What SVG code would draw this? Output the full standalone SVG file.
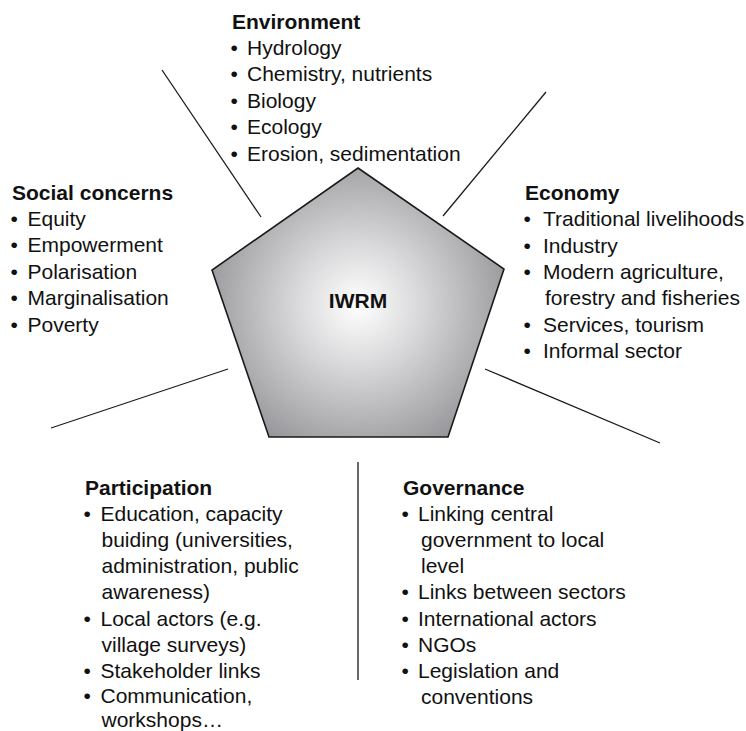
<svg xmlns="http://www.w3.org/2000/svg" width="746" height="731" viewBox="0 0 746 731">
  <defs>
    <radialGradient id="core" gradientUnits="userSpaceOnUse" cx="358" cy="305" r="175">
      <stop offset="0" stop-color="#ffffff"/>
      <stop offset="0.35" stop-color="#d9d9db"/>
      <stop offset="1" stop-color="#8b8b8f"/>
    </radialGradient>
  </defs>
  <style>
    text { font-family: "Liberation Sans", Arial, sans-serif; font-size: 21px; fill: #111; }
    .head { font-weight: bold; }
    .conn line { stroke: #1a1a1a; stroke-width: 1.3; }
    .core { fill: url(#core); stroke: #1a1a1a; stroke-width: 1.6; stroke-linejoin: miter; }
  </style>
  <rect width="746" height="731" fill="#ffffff"/>

  <!-- spokes separating the five themes -->
  <g class="conn" id="connectors">
    <line x1="162" y1="70" x2="261" y2="217"/>
    <line x1="546" y1="92" x2="443" y2="216"/>
    <line x1="228" y1="369" x2="51" y2="428"/>
    <line x1="485" y1="369" x2="660" y2="443"/>
    <line x1="358" y1="462" x2="358" y2="680"/>
  </g>

  <!-- central pentagon -->
  <g id="iwrm">
    <polygon class="core" points="358,168 504,269 448,437 269,437 212,270"/>
    <text class="head" x="358" y="308" text-anchor="middle">IWRM</text>
  </g>

  <g id="environment">
    <text class="head" x="232" y="28.5">Environment</text>
    <text x="230.5" y="54.5">•<tspan x="247">Hydrology</tspan></text>
    <text x="230.5" y="81">•<tspan x="247">Chemistry, nutrients</tspan></text>
    <text x="230.5" y="107.5">•<tspan x="247">Biology</tspan></text>
    <text x="230.5" y="134">•<tspan x="247">Ecology</tspan></text>
    <text x="230.5" y="160.5">•<tspan x="247">Erosion, sedimentation</tspan></text>
  </g>

  <g id="social">
    <text class="head" x="12" y="199.5">Social concerns</text>
    <text x="10.5" y="225.5">•<tspan x="27.5">Equity</tspan></text>
    <text x="10.5" y="252">•<tspan x="27.5">Empowerment</tspan></text>
    <text x="10.5" y="278.5">•<tspan x="27.5">Polarisation</tspan></text>
    <text x="10.5" y="305">•<tspan x="27.5">Marginalisation</tspan></text>
    <text x="10.5" y="331.5">•<tspan x="27.5">Poverty</tspan></text>
  </g>

  <g id="economy">
    <text class="head" x="525" y="200">Economy</text>
    <text x="523.5" y="226">•<tspan x="543">Traditional livelihoods</tspan></text>
    <text x="523.5" y="252.5">•<tspan x="543">Industry</tspan></text>
    <text x="523.5" y="279">•<tspan x="543">Modern agriculture,</tspan></text>
    <text x="545" y="305">forestry and fisheries</text>
    <text x="523.5" y="331.5">•<tspan x="543">Services, tourism</tspan></text>
    <text x="523.5" y="358">•<tspan x="543">Informal sector</tspan></text>
  </g>

  <g id="participation">
    <text class="head" x="85" y="495">Participation</text>
    <text x="83.5" y="521">•<tspan x="100.5">Education, capacity</tspan></text>
    <text x="101.5" y="547">buiding (universities,</text>
    <text x="101.5" y="573">administration, public</text>
    <text x="101.5" y="599">awareness)</text>
    <text x="83.5" y="625.5">•<tspan x="100.5">Local actors (e.g.</tspan></text>
    <text x="101.5" y="651.5">village surveys)</text>
    <text x="83.5" y="677.5">•<tspan x="100.5">Stakeholder links</tspan></text>
    <text x="83.5" y="703">•<tspan x="100.5">Communication,</tspan></text>
    <text x="101.5" y="726.5">workshops…</text>
  </g>

  <g id="governance">
    <text class="head" x="403" y="495">Governance</text>
    <text x="401.5" y="521">•<tspan x="418">Linking central</tspan></text>
    <text x="421" y="547">government to local</text>
    <text x="421" y="572.5">level</text>
    <text x="401.5" y="599">•<tspan x="418">Links between sectors</tspan></text>
    <text x="401.5" y="625.5">•<tspan x="418">International actors</tspan></text>
    <text x="401.5" y="651.5">•<tspan x="418">NGOs</tspan></text>
    <text x="401.5" y="677.5">•<tspan x="418">Legislation and</tspan></text>
    <text x="421" y="704">conventions</text>
  </g>
</svg>
